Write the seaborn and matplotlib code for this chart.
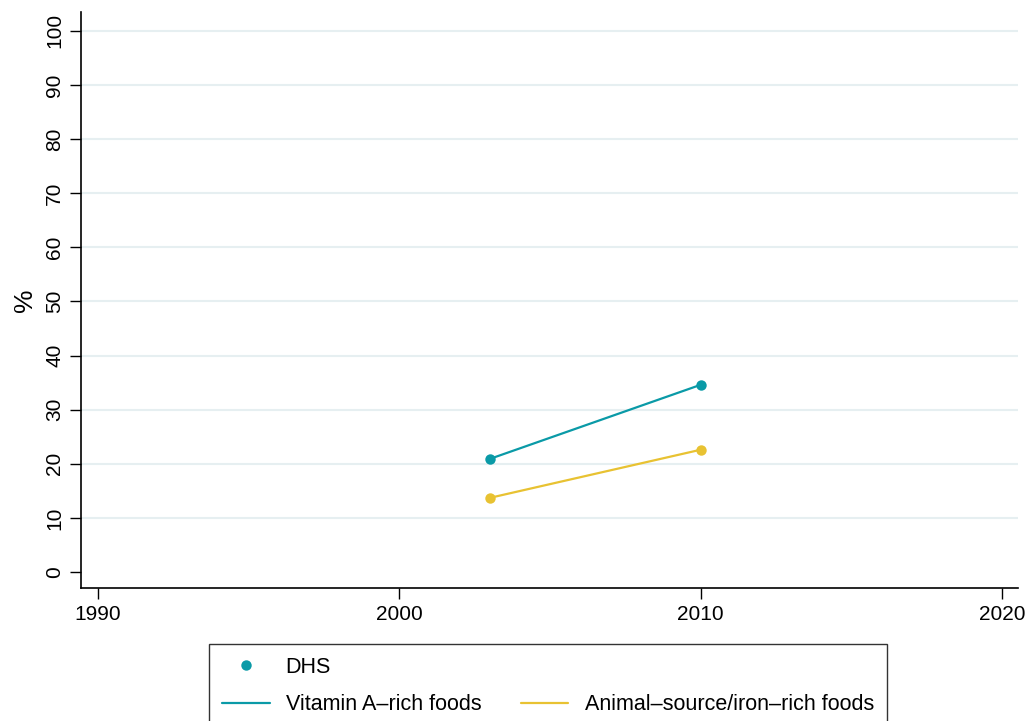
import matplotlib
matplotlib.use("Agg")
import matplotlib.pyplot as plt
from matplotlib.lines import Line2D
import seaborn as sns
import pandas as pd

# Survey years and indicator values (%)
years = [2003, 2010]
vitamin_a = [20.9, 34.6]
animal_iron = [13.7, 22.6]
series_names = ["Vitamin A\u2013rich foods", "Animal\u2013source/iron\u2013rich foods"]
source_name = "DHS"
x_ticks = [1990, 2000, 2010, 2020]
y_ticks = list(range(0, 101, 10))

teal = "#0a9aa7"
gold = "#e8c232"

df = pd.DataFrame({
    "year": years * 2,
    "value": vitamin_a + animal_iron,
    "series": [series_names[0]] * len(years) + [series_names[1]] * len(years),
})

sns.set_theme(style="white")
plt.rcParams["font.family"] = ["Liberation Sans", "DejaVu Sans"]
plt.rcParams["text.color"] = "black"
plt.rcParams["axes.labelcolor"] = "black"
plt.rcParams["xtick.color"] = "black"
plt.rcParams["ytick.color"] = "black"

fig = plt.figure(figsize=(10.26, 7.21), dpi=100)
ax = fig.add_axes([81 / 1026, 1 - 588 / 721, (1018 - 81) / 1026, (588 - 12) / 721])

for y in y_ticks[1:]:
    ax.axhline(y, color="#e6eff1", lw=1.5, zorder=0)

sns.lineplot(data=df, x="year", y="value", hue="series",
             palette=[teal, gold], marker="o", markersize=7.5,
             markeredgewidth=0, linewidth=1.6, legend=False, ax=ax)

ax.set_xlim(1989.43, 2020.53)
ax.set_ylim(-2.96, 103.5)
ax.set_xticks(x_ticks)
ax.set_yticks(y_ticks)
ax.set_xticklabels([str(t) for t in x_ticks], fontsize=15)
ax.set_yticklabels([str(t) for t in y_ticks], fontsize=15, rotation=90, va="center")
ax.set_xlabel("")
ax.set_ylabel("%", fontsize=19, labelpad=6)
ax.tick_params(axis="both", direction="out", length=8, width=1, color="black",
               labelcolor="black", left=True, bottom=True, pad=4)
for side in ["top", "right"]:
    ax.spines[side].set_visible(False)
for side in ["left", "bottom"]:
    ax.spines[side].set_color("black")
    ax.spines[side].set_linewidth(1.2)

handles = [
    Line2D([], [], ls="none", marker="o", color=teal, markersize=7.5, markeredgewidth=0),
    Line2D([], [], color=teal, lw=1.6),
    Line2D([], [], ls="none", marker=None, color="none"),
    Line2D([], [], color=gold, lw=1.6),
]
labels = [source_name, series_names[0], "", series_names[1]]
leg = fig.legend(handles, labels, ncol=2, loc="upper center",
                 bbox_to_anchor=(548 / 1026, 1 - 644 / 721), borderaxespad=0,
                 fontsize=15.5, frameon=True, fancybox=False, edgecolor="black",
                 handlelength=2.2, handletextpad=0.75, columnspacing=1.85,
                 labelspacing=0.75, borderpad=0.6, labelcolor="black")
leg.get_frame().set_linewidth(1.0)

fig.savefig("out.png", dpi=100, facecolor="white")
